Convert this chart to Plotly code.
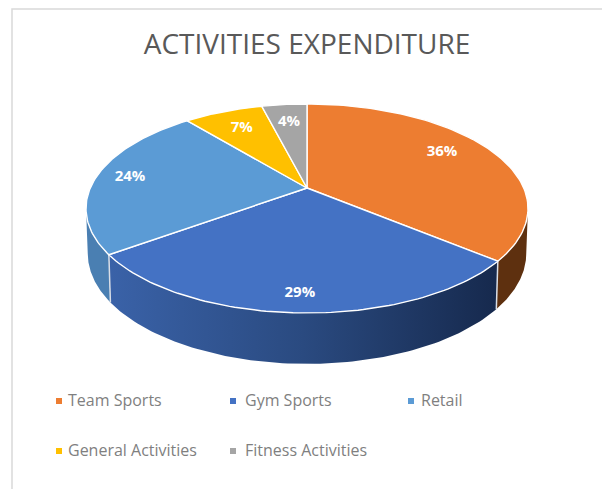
import math
import plotly.graph_objects as go

# ---- data ----
categories = ["Team Sports", "Gym Sports", "Retail", "General Activities", "Fitness Activities"]
values = [36, 29, 24, 7, 4]
colors = ["#ED7D31", "#4472C4", "#5B9BD5", "#FFC000", "#A5A5A5"]
title_text = "ACTIVITIES EXPENDITURE"

# ---- styling / layout constants ----
W, H = 602, 489
CX, CY = 307, 188
A, B, K = 216.7, 100.5, 0.196        # perspective projection of the top disc
BOT_A, BOT_B, BOT_D = 215, 106, 44    # bottom rim
label_radius = [0.773, 0.867, 0.84, 0.75, 0.76]
label_shift = [-4.7, 0, 0, 0, 0]
side_gradients = [
    [[0, "#5E300F"], [1, "#5E300F"]],
    [[0, "#3A62A8"], [0.5, "#2A4A80"], [1, "#16294D"]],
    [[0, "#4A7FB2"], [1, "#4A7FB2"]],
]
legend_marker_x = [59, 233, 411, 59, 233]
legend_text_x = [68, 245, 421, 68, 245]
legend_y = [401, 401, 401, 451, 451]
legend_text_y = [402, 402, 402, 452, 452]


def top(theta_deg, r=1.0):
    t = math.radians(theta_deg)
    u, v = r * math.sin(t), r * math.cos(t)
    w = 1 + K * v
    return CX + A * u / w, CY - B * v / w


def bottom(theta_deg):
    t = math.radians(theta_deg)
    u, v = math.sin(t), math.cos(t)
    w = 1 + K * v
    return CX + BOT_A * u / w, CY + BOT_D - BOT_B * v / w


def arc(fn, a0, a1, n=90):
    pts = [fn(a0 + (a1 - a0) * i / n) for i in range(n + 1)]
    return [p[0] for p in pts], [p[1] for p in pts]


total = sum(values)
edges = [0.0]
for val in values:
    edges.append(edges[-1] + 360.0 * val / total)

fig = go.Figure()

# front wall of the pie: runs between the two widest points of the projected rim
widest = math.degrees(math.asin(K))
visible = [(90 + widest, edges[1]), (edges[1], edges[2]), (edges[2], 270 - widest)]
for i, (a0, a1) in enumerate(visible):
    tx, ty = arc(top, a0, a1)
    bx, by = arc(bottom, a0, a1)
    fig.add_trace(go.Scatter(
        x=tx + bx[::-1] + [tx[0]], y=ty + by[::-1] + [ty[0]],
        mode="lines", fill="toself", line=dict(width=0),
        fillgradient=dict(type="horizontal", colorscale=side_gradients[i]),
        hoverinfo="skip", showlegend=False, name=categories[i] + " side"))

# separators on the wall
for e in (edges[1], edges[2]):
    p, q = top(e), bottom(e)
    fig.add_trace(go.Scatter(x=[p[0], q[0]], y=[p[1], q[1]], mode="lines",
                             line=dict(color="#D9DEE6", width=1.5),
                             hoverinfo="skip", showlegend=False))

# top faces
for i, name in enumerate(categories):
    ax, ay = arc(top, edges[i], edges[i + 1])
    fig.add_trace(go.Scatter(
        x=[CX] + ax + [CX], y=[CY] + ay + [CY],
        mode="lines", fill="toself", fillcolor=colors[i],
        line=dict(color="#FFFFFF", width=1.4),
        name=name, hoverinfo="skip", showlegend=False))

# value labels
lx, ly, lt = [], [], []
for i, val in enumerate(values):
    mid = (edges[i] + edges[i + 1]) / 2 + label_shift[i]
    p = top(mid, label_radius[i])
    lx.append(p[0]); ly.append(p[1]); lt.append(f"{val}%")
fig.add_trace(go.Scatter(x=lx, y=ly, text=lt, mode="text",
                         textposition="middle center",
                         textfont=dict(family="Open Sans", size=15, color="#FFFFFF", weight="bold"),
                         hoverinfo="skip", showlegend=False))

# legend
for i, name in enumerate(categories):
    fig.add_trace(go.Scatter(x=[legend_marker_x[i]], y=[legend_y[i]], mode="markers",
                             marker=dict(symbol="square", size=6, color=colors[i]),
                             hoverinfo="skip", showlegend=False))
fig.add_trace(go.Scatter(x=legend_text_x, y=legend_text_y, text=categories, mode="text",
                         textposition="middle right",
                         textfont=dict(family="Open Sans", size=16, color="#7F7F7F"),
                         hoverinfo="skip", showlegend=False))

fig.update_layout(
    width=W, height=H,
    margin=dict(l=0, r=0, t=0, b=0),
    paper_bgcolor="#FFFFFF", plot_bgcolor="#FFFFFF",
    xaxis=dict(range=[0, W], visible=False, fixedrange=True),
    yaxis=dict(range=[H, 0], visible=False, fixedrange=True),
    title=dict(text=title_text, x=307 / W, xanchor="center", y=1 - 44 / H, yanchor="middle",
               font=dict(family="Open Sans", size=28, color="#595959")),
    shapes=[dict(type="rect", xref="x", yref="y", x0=12, y0=9, x1=W + 5, y1=H + 5,
                 line=dict(color="#D9D9D9", width=1.5), layer="below")],
)
fig.write_html("out.html", config=dict(displayModeBar=False),
               post_script="document.body.style.margin='0';document.documentElement.style.overflow='hidden';")
